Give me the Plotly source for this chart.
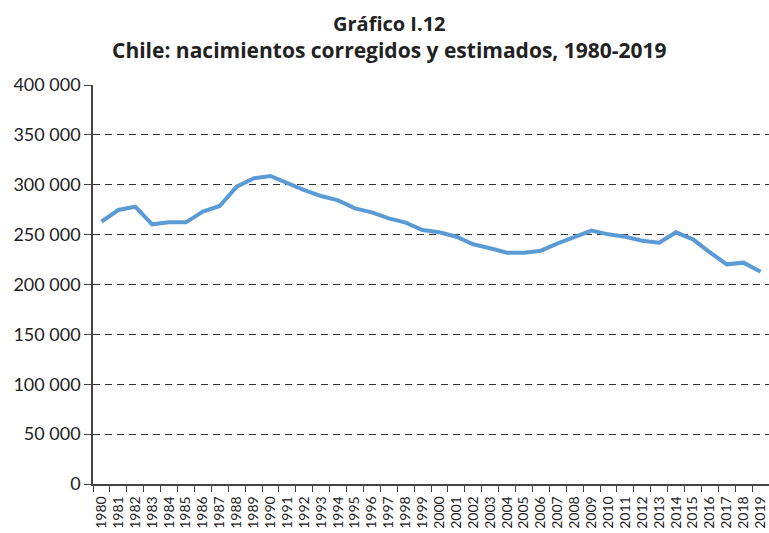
import plotly.graph_objects as go

years = [str(y) for y in range(1980, 2020)]
births = [263000, 274700, 278000, 260300, 262300, 262300, 273000, 278700, 298000, 306400,
          308800, 301400, 294700, 288700, 284300, 276300, 272300, 266300, 262000, 254600,
          252300, 247900, 240300, 236300, 231900, 231900, 233900, 241300, 247500, 254000,
          250300, 247900, 243900, 241900, 252300, 245300, 232300, 220200, 221900, 212800]

title_l1 = "Gráfico I.12"
title_l2 = "Chile: nacimientos corregidos y estimados, 1980-2019"

FONT = "Lato"
TFONT = "Open Sans"

W, H = 769, 533
L, T, R, B = 93, 85, 0, 49
pw, ph = W - L - R, H - T - B

def py(y_page):
    return 1 + (T - y_page) / ph

def px(x_page):
    return (x_page - L) / pw

fig = go.Figure()
fig.add_trace(go.Scatter(x=years, y=births, mode="lines",
                         line=dict(color="#5B9BD5", width=4), hoverinfo="x+y"))

fig.update_layout(
    width=W, height=H,
    margin=dict(l=L, r=R, t=T, b=B),
    paper_bgcolor="white", plot_bgcolor="white",
    separators=", ",
    showlegend=False,
    font=dict(family=FONT, color="#222"),
)
fig.add_annotation(
    text="<span style='font-size:20px'><b>" + title_l1 + "</b></span><br><b>" + title_l2 + "</b>",
    xref="paper", yref="paper", x=px(389), y=py(37), xanchor="center", yanchor="middle",
    align="center", showarrow=False, font=dict(size=21, family=TFONT, color="#222"))

fig.update_xaxes(
    type="category", tickson="boundaries", ticks="outside", ticklen=6, tickcolor="#444",
    tickmode="array", tickvals=years, ticktext=years, ticklabelstandoff=5,
    tickangle=-90, tickfont=dict(size=14, family=FONT, color="#222"),
    showline=True, linecolor="#444", linewidth=1.5, showgrid=False,
    range=[-0.5, 39.5], automargin=False,
)
fig.update_yaxes(
    range=[0, 400000], tickvals=list(range(0, 400001, 50000)), tickformat=",d",
    ticks="outside", ticklen=7, tickcolor="#444",
    tickfont=dict(size=18, family=FONT, color="#222"),
    showline=True, linecolor="#444", linewidth=1.5,
    showgrid=True, gridcolor="#333", griddash="7px,5px", gridwidth=1,
    zeroline=False, automargin=False,
)

fig.write_html(
    "out.html",
    config={"displayModeBar": False},
    post_script="document.body.style.margin='0';document.body.style.overflow='hidden';",
)
